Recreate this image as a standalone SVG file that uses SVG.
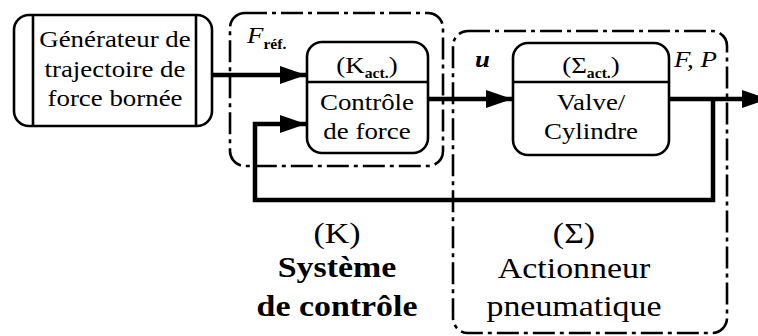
<svg xmlns="http://www.w3.org/2000/svg" width="758" height="336" viewBox="0 0 758 336" font-family="'Liberation Serif', Tinos, 'Times New Roman', 'DejaVu Serif', serif">
<style>
.box{fill:#fff;stroke:#000;stroke-width:2.6}
.dash{fill:none;stroke:#000;stroke-width:2.6;stroke-dasharray:22 5 4 5}
.sig{fill:none;stroke:#000;stroke-width:4.5}
text{font-family:'Liberation Serif', Tinos, 'Times New Roman', 'DejaVu Serif', serif}
.t{font-size:24px;fill:#000;text-anchor:middle}
.big{font-size:30px;fill:#000;text-anchor:middle}
.b{font-weight:bold}
.sub{font-size:14px;font-weight:bold}
.lab{font-size:24px;font-style:italic;fill:#000}
</style>
<defs>
<marker id="ah" markerUnits="userSpaceOnUse" markerWidth="26" markerHeight="18" refX="26" refY="9" orient="auto">
<path d="M0,0 L26,9 L0,18 z" fill="#000"/>
</marker>
</defs>
<rect width="758" height="336" fill="#fff"/>

<g id="K-boundary">
<rect class="dash" x="230" y="13" width="213" height="153" rx="15"/>
</g>
<g id="Sigma-boundary">
<rect class="dash" x="453" y="31" width="274" height="302" rx="15"/>
</g>

<g id="connectors">
<path class="sig" d="M212,75 H306" marker-end="url(#ah)"/>
<path class="sig" d="M428,99 H512" marker-end="url(#ah)"/>
<path class="sig" d="M669,99 H768" marker-end="url(#ah)"/>
<path class="sig" d="M713,99 V200 H255 V124 H306" marker-end="url(#ah)"/>
</g>

<g id="generator">
<rect class="box" x="14" y="15" width="198" height="111" rx="15"/>
<line x1="33" y1="15" x2="33" y2="126" stroke="#000" stroke-width="2.6"/>
<line x1="196" y1="15" x2="196" y2="126" stroke="#000" stroke-width="2.6"/>
<g transform="translate(115 0) scale(1.12 1)">
<text class="t" x="0" y="47">Générateur de</text>
<text class="t" x="0" y="77">trajectoire de</text>
<text class="t" x="0" y="106">force bornée</text>
</g>
</g>

<g id="Kact">
<rect class="box" x="307" y="42" width="121" height="111" rx="15"/>
<line x1="307" y1="82" x2="428" y2="82" stroke="#000" stroke-width="2.6"/>
<g transform="translate(367 0) scale(1.12 1)">
<text class="t" x="0" y="73">(K<tspan class="sub" dy="5">act.</tspan><tspan dy="-5">)</tspan></text>
<text class="t" x="0" y="110">Contrôle</text>
<text class="t" x="0" y="139">de force</text>
</g>
</g>

<g id="Sigmaact">
<rect class="box" x="513" y="43" width="156" height="112" rx="15"/>
<line x1="513" y1="82" x2="669" y2="82" stroke="#000" stroke-width="2.6"/>
<g transform="translate(591 0) scale(1.12 1)">
<text class="t" x="0" y="73">(Σ<tspan class="sub" dy="5">act.</tspan><tspan dy="-5">)</tspan></text>
<text class="t" x="0" y="110">Valve/</text>
<text class="t" x="0" y="139">Cylindre</text>
</g>
</g>

<g id="labels">
<g transform="translate(247 0) scale(1.12 1)">
<text class="lab" x="0" y="43">F<tspan class="sub" font-style="normal" dy="6">réf.</tspan></text>
</g>
<g transform="translate(475 0) scale(1.12 1)">
<text class="lab b" x="0" y="67">u</text>
</g>
<g transform="translate(674 0) scale(1.12 1)">
<text class="lab" x="0" y="67">F, P</text>
</g>
</g>

<g id="K-label">
<g transform="translate(337 0) scale(1.13 1)">
<text class="big" x="0" y="243">(K)</text>
<text class="big b" x="0" y="277">Système</text>
<text class="big b" x="0" y="316">de contrôle</text>
</g>
</g>
<g id="Sigma-label">
<g transform="translate(574 0) scale(1.13 1)">
<text class="big" x="0" y="243">(Σ)</text>
<text class="big" x="0" y="278">Actionneur</text>
<text class="big" x="0" y="316">pneumatique</text>
</g>
</g>
</svg>
